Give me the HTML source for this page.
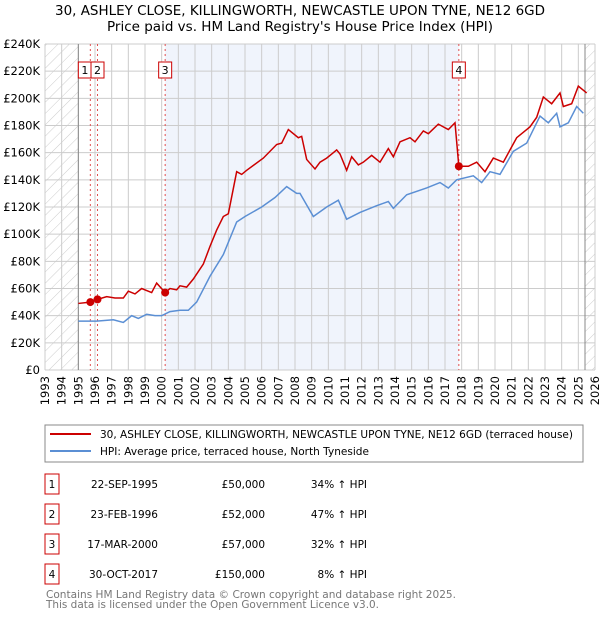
<!DOCTYPE html>
<html><head><meta charset="utf-8"><style>
body{margin:0;background:#fff;font-family:"DejaVu Sans","Liberation Sans",sans-serif;}
svg text{font-family:"DejaVu Sans","Liberation Sans",sans-serif;}
</style></head><body>
<svg id="c" width="600" height="620" viewBox="0 0 600 620" xmlns="http://www.w3.org/2000/svg">
<defs><pattern id="hatch" width="8" height="8" patternUnits="userSpaceOnUse" patternTransform="rotate(45)"><line x1="0" y1="0" x2="0" y2="8" stroke="#ccc" stroke-width="1"/></pattern></defs>
<text x="55" y="15" font-size="13" textLength="490" lengthAdjust="spacingAndGlyphs">30, ASHLEY CLOSE, KILLINGWORTH, NEWCASTLE UPON TYNE, NE12 6GD</text>
<text x="107" y="31" font-size="13" textLength="386" lengthAdjust="spacingAndGlyphs">Price paid vs. HM Land Registry's House Price Index (HPI)</text>
<g id="plot"></g>
<rect x="45" y="425" width="538" height="37" fill="#fff" stroke="#888"/>
<line x1="50" y1="434" x2="91" y2="434" stroke="#cc0000" stroke-width="2"/>
<text x="100" y="438" font-size="10.5" textLength="473" lengthAdjust="spacingAndGlyphs">30, ASHLEY CLOSE, KILLINGWORTH, NEWCASTLE UPON TYNE, NE12 6GD (terraced house)</text>
<line x1="50" y1="451" x2="91" y2="451" stroke="#5b8fd4" stroke-width="2"/>
<text x="100" y="455" font-size="10.5" textLength="269" lengthAdjust="spacingAndGlyphs">HPI: Average price, terraced house, North Tyneside</text>
<g id="table" font-size="10.5"></g>
<text x="46" y="598" font-size="10.5" fill="#777" textLength="410" lengthAdjust="spacingAndGlyphs">Contains HM Land Registry data © Crown copyright and database right 2025.</text>
<text x="46" y="608" font-size="10.5" fill="#777" textLength="333" lengthAdjust="spacingAndGlyphs">This data is licensed under the Open Government Licence v3.0.</text>
</svg>
<script>
const hpiYears=[1995,1996.1,1997.1,1997.7,1998.2,1998.6,1999.1,1999.6,2000,2000.5,2001.1,2001.6,2002.1,2002.9,2003.7,2004.5,2005,2006,2006.8,2007.5,2008.1,2008.3,2009.1,2009.9,2010.6,2011.1,2011.9,2012.9,2013.6,2013.9,2014.7,2015.9,2016.7,2017.2,2017.7,2018.7,2019.2,2019.7,2020.3,2021.1,2021.9,2022.7,2023.2,2023.7,2023.9,2024.4,2024.9,2025.3];
const hpiValues=[36,36,37,35,40,38,41,40,40,43,44,44,50,69,85,109,113,120,127,135,130,130,113,120,125,111,116,121,124,119,129,134,138,134,140,143,138,146,144,161,167,187,182,189,179,182,194,189];
const propYears=[1995,1995.72,1996.15,1996.7,1997.2,1997.7,1998,1998.4,1998.8,1999.4,1999.7,2000.21,2000.5,2000.9,2001.1,2001.5,2001.9,2002.5,2002.9,2003.3,2003.7,2004,2004.5,2004.8,2005.1,2006.1,2006.9,2007.2,2007.6,2008.2,2008.4,2008.7,2009.2,2009.5,2009.9,2010.2,2010.5,2010.7,2011.1,2011.4,2011.8,2012.1,2012.6,2013.1,2013.6,2013.9,2014.3,2014.9,2015.2,2015.7,2016,2016.6,2016.9,2017.2,2017.6,2017.83,2018.4,2018.9,2019.4,2019.9,2020.5,2021.3,2022.1,2022.5,2022.9,2023.4,2023.9,2024.1,2024.6,2025,2025.5];
const propValues=[49,50,52,54,53,53,58,56,60,57,64,57,60,59,62,61,67,78,91,103,113,115,146,144,147,156,166,167,177,171,172,155,148,153,156,159,162,159,147,157,151,153,158,153,163,157,168,171,168,176,174,181,179,177,182,150,150,153,146,156,153,171,179,186,201,196,204,194,196,209,204];
const saleYears=[1995.72,1996.15,2000.21,2017.83];
const saleValues=[50,52,57,150];
const saleLabels=["1","2","3","4"];
const saleDates=["22-SEP-1995","23-FEB-1996","17-MAR-2000","30-OCT-2017"];
const salePrices=["£50,000","£52,000","£57,000","£150,000"];
const saleHpi=["34% ↑ HPI","47% ↑ HPI","32% ↑ HPI","8% ↑ HPI"];
const yTicks=[0,20,40,60,80,100,120,140,160,180,200,220,240];
const xTicks=[1993,1994,1995,1996,1997,1998,1999,2000,2001,2002,2003,2004,2005,2006,2007,2008,2009,2010,2011,2012,2013,2014,2015,2016,2017,2018,2019,2020,2021,2022,2023,2024,2025,2026];

const L=45,R=595,T=44,B=370,X0=1993,X1=2026,YMAX=240;
const sx=y=>L+(y-X0)/(X1-X0)*(R-L);
const sy=v=>B-v/YMAX*(B-T);
const NS="http://www.w3.org/2000/svg";
const plot=document.getElementById('plot');
function mk(tag,attrs,parent){const e=document.createElementNS(NS,tag);for(const k in attrs)e.setAttribute(k,attrs[k]);(parent||plot).appendChild(e);return e;}

let e;
e=mk('rect',{x:L,y:T,width:R-L,height:B-T,fill:'#fff'});


e=mk('rect',{x:sx(saleYears[2]),y:T,width:sx(saleYears[3])-sx(saleYears[2]),height:B-T,fill:'#f0f4fc'});


e=mk('rect',{x:L,y:T,width:sx(1995)-L,height:B-T,fill:'url(#hatch)'});


e=mk('rect',{x:sx(2025.4),y:T,width:R-sx(2025.4),height:B-T,fill:'url(#hatch)'});


xTicks.forEach(t=>{
  e=mk('line',{x1:sx(t),x2:sx(t),y1:T,y2:B,stroke:'#ccc','stroke-width':1});
  
  
  e=mk('text',{x:0,y:0,'font-size':11.5,'text-anchor':'end',transform:`translate(${sx(t)+4},${B+6}) rotate(-90)`});
  e.textContent=t;
  
  
});
yTicks.forEach(t=>{
  e=mk('line',{x1:L,x2:R,y1:sy(t),y2:sy(t),stroke:'#ccc','stroke-width':1});
  
  
  e=mk('text',{x:L-5,y:sy(t)+4,'font-size':11.5,'text-anchor':'end'});
  e.textContent=t===0?'£0':'£'+t+'K';
  
  
});
e=mk('line',{x1:sx(1995),x2:sx(1995),y1:T,y2:B,stroke:'#888'});


e=mk('line',{x1:sx(2025.4),x2:sx(2025.4),y1:T,y2:B,stroke:'#888'});


saleYears.forEach((y,i)=>{
  e=mk('line',{x1:sx(y),x2:sx(y),y1:T,y2:B,stroke:'#e05050','stroke-dasharray':'2,3'});
  
  
});
e=mk('polyline',{points:hpiYears.map((y,i)=>sx(y)+','+sy(hpiValues[i])).join(' '),fill:'none',stroke:'#5b8fd4','stroke-width':1.5});


e=mk('polyline',{points:propYears.map((y,i)=>sx(y)+','+sy(propValues[i])).join(' '),fill:'none',stroke:'#cc0000','stroke-width':1.5});


saleYears.forEach((y,i)=>{
  e=mk('circle',{cx:sx(y),cy:sy(saleValues[i]),r:4,fill:'#cc0000'});
  
  
  const bx=i===0?sx(y)-12:sx(y)-6.5;
  e=mk('rect',{x:bx,y:62,width:13,height:16,fill:'#fff',stroke:'#cc0000'});
  
  
  e=mk('text',{x:bx+6.5,y:74,'font-size':11,'text-anchor':'middle'});
  e.textContent=saleLabels[i];
  
  
});
const tbl=document.getElementById('table');
saleLabels.forEach((s,i)=>{
  const cy=484+i*30;
  e=mk('rect',{x:45,y:cy-10,width:14,height:20,fill:'#fff',stroke:'#cc0000'},tbl);
  
  
  e=mk('text',{x:52,y:cy+4,'text-anchor':'middle'},tbl);e.textContent=s;
  
  
  e=mk('text',{x:158,y:cy+4,'text-anchor':'end'},tbl);e.textContent=saleDates[i];
  
  
  e=mk('text',{x:265,y:cy+4,'text-anchor':'end'},tbl);e.textContent=salePrices[i];
  
  
  e=mk('text',{x:367,y:cy+4,'text-anchor':'end'},tbl);e.textContent=saleHpi[i];
  
  
});
</script>
</body></html>
